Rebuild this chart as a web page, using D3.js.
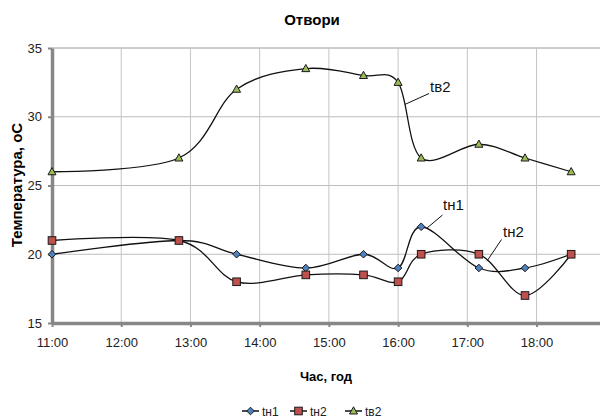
<!DOCTYPE html>
<html>
<head>
<meta charset="utf-8">
<script src="https://cdn.jsdelivr.net/npm/d3@7/dist/d3.min.js"></script>
<style>
  body { margin: 0; background: #fff; }
  svg { display: block; }
</style>
</head>
<body>
<svg id="chart" width="600" height="418"></svg>
<script>
// Measurement times and temperatures
const times = ["11:00", "12:50", "13:40", "14:40", "15:30", "16:00", "16:20", "17:10", "17:50", "18:30"];
const tn1 = [20, 21, 20, 19, 20, 19, 22, 19, 19, 20];
const tn2 = [21, 21, 18, 18.5, 18.5, 18, 20, 20, 17, 20];
const tv2 = [26, 27, 32, 33.5, 33, 32.5, 27, 28, 27, 26];
const seriesNames = ["tн1", "tн2", "tв2"];
const hourTicks = ["11:00", "12:00", "13:00", "14:00", "15:00", "16:00", "17:00", "18:00"];
const tempTicks = [15, 20, 25, 30, 35];
const titleText = "Отвори";
const xTitle = "Час, год";
const yTitle = "Температура, оС";

const toMin = s => { const [h, m] = s.split(":").map(Number); return h * 60 + m; };
const fmtHour = m => `${Math.floor(m / 60)}:${String(m % 60).padStart(2, "0")}`;

const svg = d3.select("#chart");
const plotL = 52, plotR = 600, plotT = 48, plotB = 323;

const x = d3.scaleLinear().domain([660, 1135]).range([plotL, plotR]);
const y = d3.scaleLinear().domain([15, 35]).range([plotB, plotT]);

const tickMins = hourTicks.map(toMin);

// gridlines
const grid = svg.append("g");
grid.selectAll("line.h").data(tempTicks.filter(v => v > 15)).join("line")
  .attr("x1", plotL).attr("x2", plotR)
  .attr("y1", d => y(d)).attr("y2", d => y(d))
  .attr("stroke", d => d === 35 ? "#9a9a9a" : "#bdbdbd").attr("stroke-width", 1);
grid.selectAll("line.v").data(tickMins.slice(1)).join("line")
  .attr("x1", d => x(d)).attr("x2", d => x(d))
  .attr("y1", plotT).attr("y2", plotB)
  .attr("stroke", "#c4c4c4").attr("stroke-width", 1);

// axes
const axisColor = "#878787";
const tickFont = "'Liberation Sans Narrow', 'Arial Narrow', 'Liberation Sans', sans-serif";
const xAxis = svg.append("g").attr("transform", `translate(0,${plotB})`)
  .call(d3.axisBottom(x).tickValues(tickMins).tickFormat(fmtHour)
    .tickSize(4).tickSizeOuter(0).tickPadding(11));
const yAxis = svg.append("g").attr("transform", `translate(${plotL},0)`)
  .call(d3.axisLeft(y).tickValues(tempTicks).tickFormat(d3.format("d"))
    .tickSize(4).tickSizeOuter(0).tickPadding(6));
[xAxis, yAxis].forEach(a => {
  a.select(".domain").attr("stroke", axisColor).attr("stroke-width", 3.5);
  a.selectAll(".tick line").attr("stroke", axisColor).attr("stroke-width", 2);
  a.selectAll(".tick text").attr("fill", "#222")
    .style("font-family", tickFont).style("font-size", "13px");
});

// series
const pts = vals => times.map((t, i) => [x(toMin(t)), y(vals[i])]);
const line = d3.line().curve(d3.curveCardinal.tension(0));
const series = [
  { name: seriesNames[0], vals: tn1, fill: "#4f81bd", shape: "diamond" },
  { name: seriesNames[1], vals: tn2, fill: "#c0504d", shape: "square" },
  { name: seriesNames[2], vals: tv2, fill: "#9bbb59", shape: "triangle" }
];

function marker(g, shape, fill) {
  if (shape === "diamond") {
    g.append("path").attr("d", "M0,-3.8L3.8,0L0,3.8L-3.8,0Z");
  } else if (shape === "square") {
    g.append("rect").attr("x", -3.8).attr("y", -3.8).attr("width", 7.6).attr("height", 7.6);
  } else {
    g.append("path").attr("d", "M0,-4.2L4,3L-4,3Z");
  }
  g.selectAll("*").attr("fill", fill).attr("stroke", "#1a1a1a").attr("stroke-width", 1);
}

series.forEach(s => {
  svg.append("path").attr("d", line(pts(s.vals)))
    .attr("fill", "none").attr("stroke", "#111").attr("stroke-width", 1.3);
});
series.forEach(s => {
  pts(s.vals).forEach(p => {
    const g = svg.append("g").attr("transform", `translate(${p[0]},${p[1]})`);
    marker(g, s.shape, s.fill);
  });
});

// series name callouts
const callouts = [
  { name: seriesNames[2], from: [x(966), y(30.9)], to: [429, 93.5], tx: 430, ty: 91.5 },
  { name: seriesNames[0], from: [x(985), y(21.9)], to: [442.5, 215], tx: 443, ty: 210 },
  { name: seriesNames[1], from: [x(1037), y(19.5)], to: [501.5, 239.5], tx: 503, ty: 237 }
];
callouts.forEach(c => {
  svg.append("line").attr("x1", c.from[0]).attr("y1", c.from[1])
    .attr("x2", c.to[0]).attr("y2", c.to[1])
    .attr("stroke", "#111").attr("stroke-width", 1);
  svg.append("text").attr("x", c.tx).attr("y", c.ty).text(c.name)
    .style("font-family", tickFont).style("font-size", "15px").attr("fill", "#111");
});

// titles
svg.append("text").attr("x", 312).attr("y", 24.5).attr("text-anchor", "middle")
  .text(titleText)
  .style("font-family", "'Liberation Sans', Arial, sans-serif")
  .style("font-weight", "bold").style("font-size", "15px").attr("fill", "#000");
svg.append("text").attr("x", 326).attr("y", 381).attr("text-anchor", "middle")
  .text(xTitle)
  .style("font-family", "'Liberation Sans', Arial, sans-serif")
  .style("font-weight", "bold").style("font-size", "13px").attr("fill", "#000");
svg.append("text").attr("transform", "translate(22,185) rotate(-90)")
  .attr("text-anchor", "middle").text(yTitle)
  .style("font-family", "'Liberation Sans', Arial, sans-serif")
  .style("font-weight", "bold").style("font-size", "15px").attr("fill", "#000");

// legend
const legendX = [242, 290, 345];
const legendY = 411;
series.forEach((s, i) => {
  const g = svg.append("g").attr("transform", `translate(${legendX[i]},${legendY})`);
  g.append("line").attr("x1", 0).attr("x2", 17).attr("y1", 0).attr("y2", 0)
    .attr("stroke", "#111").attr("stroke-width", 1.5);
  const m = g.append("g").attr("transform", "translate(8.5,0)");
  marker(m, s.shape, s.fill);
  g.append("text").attr("x", 20).attr("y", 4.5).text(s.name)
    .style("font-family", "'Liberation Sans', Arial, sans-serif")
    .style("font-size", "12px").attr("fill", "#222");
});
</script>
</body>
</html>
